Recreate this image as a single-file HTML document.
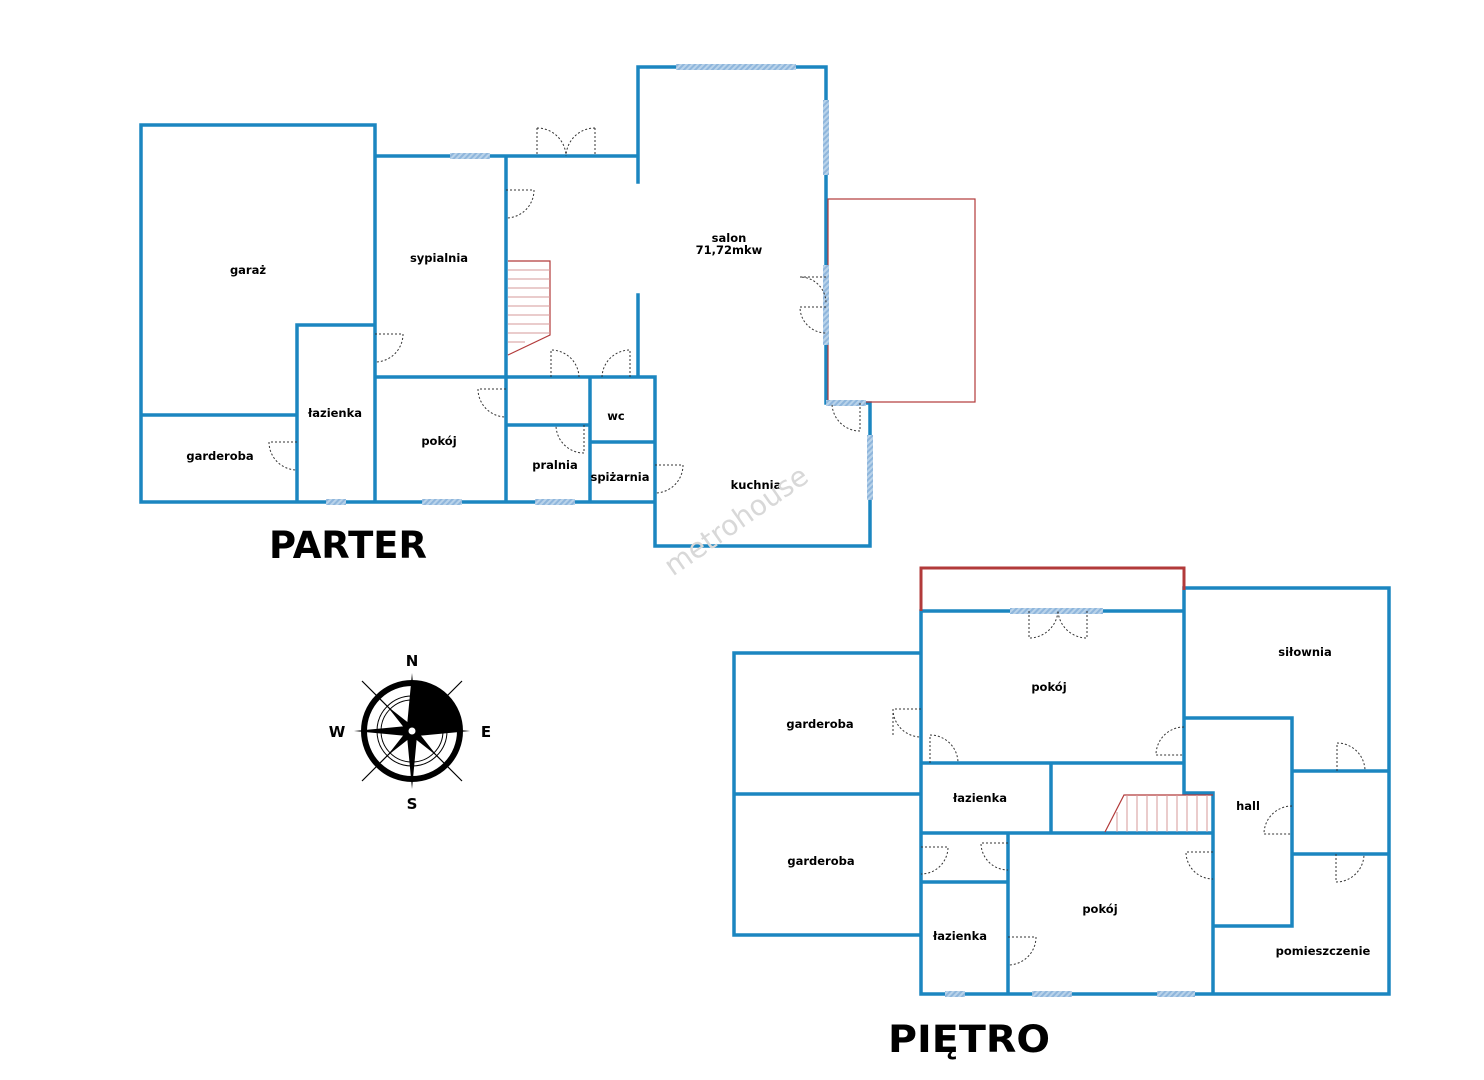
<!DOCTYPE html>
<html><head><meta charset="utf-8"><style>
html,body{margin:0;padding:0;background:#fff;}
svg{display:block;}
text{font-family:"DejaVu Sans","Liberation Sans",sans-serif;font-weight:bold;fill:#000;}
</style></head><body>
<svg width="1484" height="1080" viewBox="0 0 1484 1080" xmlns="http://www.w3.org/2000/svg">
<defs>
<pattern id="h" width="4" height="4" patternUnits="userSpaceOnUse" patternTransform="rotate(45)">
<rect width="4" height="4" fill="#b9d3ea"/><rect width="2" height="4" fill="#8fb6dc"/></pattern>
</defs>
<g stroke="#1b86c0" stroke-width="3.5" fill="none" stroke-linecap="square">
<path d="M141,125 H375 V156 H638 M141,125 V502 H655 M141,415 H297 M297,325 H375 M297,325 V502 M375,156 V502 M375,377 H655 M506,156 V502 M590,377 V502 M506,425 H590 M590,442 H655 M655,377 V546 H870 V403 H826 V67 H638 V182 M638,295 V377"/>
<path d="M921,611 H1184 V588 H1389 V994 H921 V611 M734,653 H921 M734,653 V935 H921 M734,794 H921 M921,763 H1184 M1184,588 V793 H1213 V994 M1184,718 H1292 V926 H1213 M1051,763 V833 M921,833 H1213 M1008,833 V994 M921,882 H1008 M1292,771 H1389 M1292,854 H1389"/>
</g>
<g stroke="#b23a3a" fill="none">
<rect x="828" y="199" width="147" height="203" stroke-width="1.2"/>
<path d="M921,611 V568 H1184 V590" stroke-width="3"/>
<path d="M508,261 H550 V335 L508,355" stroke-width="1.2"/>
<path d="M508,270 H550 M508,279 H550 M508,288 H550 M508,297 H550 M508,306 H550 M508,315 H550 M508,324 H550 M508,333 H550 M508,342 H525" stroke="#d59a9a" stroke-width="1"/>
<path d="M1213,795 H1124 L1105,832" stroke-width="1.2"/>
<path d="M1127,795 V832 M1137,795 V832 M1147,795 V832 M1157,795 V832 M1167,795 V832 M1177,795 V832 M1187,795 V832 M1197,795 V832 M1207,795 V832 M1117,812 V832" stroke="#d59a9a" stroke-width="1"/>
</g>
<g fill="url(#h)">
<rect x="676" y="64" width="120" height="6"/>
<rect x="450" y="153" width="40" height="6"/>
<rect x="823" y="100" width="6" height="75"/>
<rect x="823" y="265" width="6" height="80"/>
<rect x="826" y="400" width="40" height="6"/>
<rect x="867" y="435" width="6" height="65"/>
<rect x="326" y="499" width="20" height="6"/>
<rect x="422" y="499" width="40" height="6"/>
<rect x="535" y="499" width="40" height="6"/>
<rect x="1010" y="608" width="93" height="6"/>
<rect x="945" y="991" width="20" height="6"/>
<rect x="1032" y="991" width="40" height="6"/>
<rect x="1157" y="991" width="38" height="6"/>
</g>
<g stroke="#333" stroke-width="1" stroke-dasharray="2,2" fill="none">
<path d="M537,128 V156 M537,128 A29,29 0 0 1 566,156 M595,128 V156 M595,128 A29,29 0 0 0 566,156"/>
<path d="M506,190 H534 A28,28 0 0 1 506,218"/>
<path d="M551,377 V350 A28,28 0 0 1 579,377"/>
<path d="M630,377 V350 A28,28 0 0 0 602,377"/>
<path d="M375,334 H403 A28,28 0 0 1 375,362"/>
<path d="M506,389 H478 A28,28 0 0 0 506,417"/>
<path d="M584,425 V453 A28,28 0 0 1 556,425"/>
<path d="M297,442 H269 A28,28 0 0 0 297,470"/>
<path d="M655,465 H683 A28,28 0 0 1 655,493"/>
<path d="M826,277 H800 A26,26 0 0 1 826,303 M826,307 H800 A26,26 0 0 0 826,333"/>
<path d="M860,403 V431 A28,28 0 0 1 832,403"/>
<path d="M1029,611 V638 A29,29 0 0 0 1058,611 M1087,611 V638 A29,29 0 0 1 1058,611"/>
<path d="M921,709 H893 A28,28 0 0 0 921,737 M893,709 V737"/>
<path d="M930,763 V735 A28,28 0 0 1 958,763"/>
<path d="M1184,727 A28,28 0 0 0 1156,755 H1184"/>
<path d="M1337,771 V743 A28,28 0 0 1 1365,771"/>
<path d="M1292,806 A28,28 0 0 0 1264,834 H1292"/>
<path d="M1336,854 V882 A28,28 0 0 0 1364,854"/>
<path d="M921,847 H948 A27,27 0 0 1 921,874"/>
<path d="M1008,843 H981 A27,27 0 0 0 1008,870"/>
<path d="M1213,852 H1186 A27,27 0 0 0 1213,879"/>
<path d="M1008,937 H1036 A28,28 0 0 1 1008,965"/>
</g>
<g font-size="11.5" text-anchor="middle">
<text x="248" y="274">garaż</text>
<text x="439" y="262">sypialnia</text>
<text x="729" y="242">salon</text>
<text x="729" y="254">71,72mkw</text>
<text x="335" y="417">łazienka</text>
<text x="220" y="460">garderoba</text>
<text x="439" y="445">pokój</text>
<text x="616" y="420">wc</text>
<text x="555" y="469">pralnia</text>
<text x="620" y="481">spiżarnia</text>
<text x="756" y="489">kuchnia</text>
<text x="1049" y="691">pokój</text>
<text x="1305" y="656">siłownia</text>
<text x="820" y="728">garderoba</text>
<text x="980" y="802">łazienka</text>
<text x="1248" y="810">hall</text>
<text x="821" y="865">garderoba</text>
<text x="1100" y="913">pokój</text>
<text x="960" y="940">łazienka</text>
<text x="1323" y="955">pomieszczenie</text>
</g>
<text x="348" y="558" font-size="37" text-anchor="middle" style="font-family:'DejaVu Sans',sans-serif" textLength="158" lengthAdjust="spacingAndGlyphs">PARTER</text>
<text x="969" y="1052" font-size="37" text-anchor="middle" style="font-family:'DejaVu Sans',sans-serif" textLength="162" lengthAdjust="spacingAndGlyphs">PIĘTRO</text>
<text x="737" y="530" font-size="28" text-anchor="middle" transform="rotate(-35 737 522)" style="font-family:'DejaVu Sans',sans-serif;font-weight:normal;fill:#d8d8d8">metrohouse</text>
<g transform="translate(412,731)">
<path d="M-50,-50 L50,50 M50,-50 L-50,50" stroke="#000" stroke-width="1.2"/>
<circle r="48" fill="none" stroke="#000" stroke-width="6"/>
<circle r="35" fill="none" stroke="#000" stroke-width="1"/>
<circle r="31" fill="none" stroke="#000" stroke-width="1"/>
<path d="M0,-48 A48,48 0 0 1 48,0 L0,0 Z" fill="#000"/>
<path d="M0,-58 L5,-5 L58,0 L5,5 L0,58 L-5,5 L-58,0 L-5,-5 Z" fill="#000"/>
<path d="M-25,-25 L3,-3 L-3,3 Z M25,25 L-3,3 L3,-3 Z M25,-25 L3,3 L-3,-3 Z M-25,25 L-3,-3 L3,3 Z" fill="#000"/>
<circle r="4" fill="#fff" stroke="#000" stroke-width="1"/>
</g>
<g font-size="15" text-anchor="middle">
<text x="412" y="666">N</text>
<text x="412" y="809">S</text>
<text x="337" y="737">W</text>
<text x="486" y="737">E</text>
</g>
</svg>
</body></html>
